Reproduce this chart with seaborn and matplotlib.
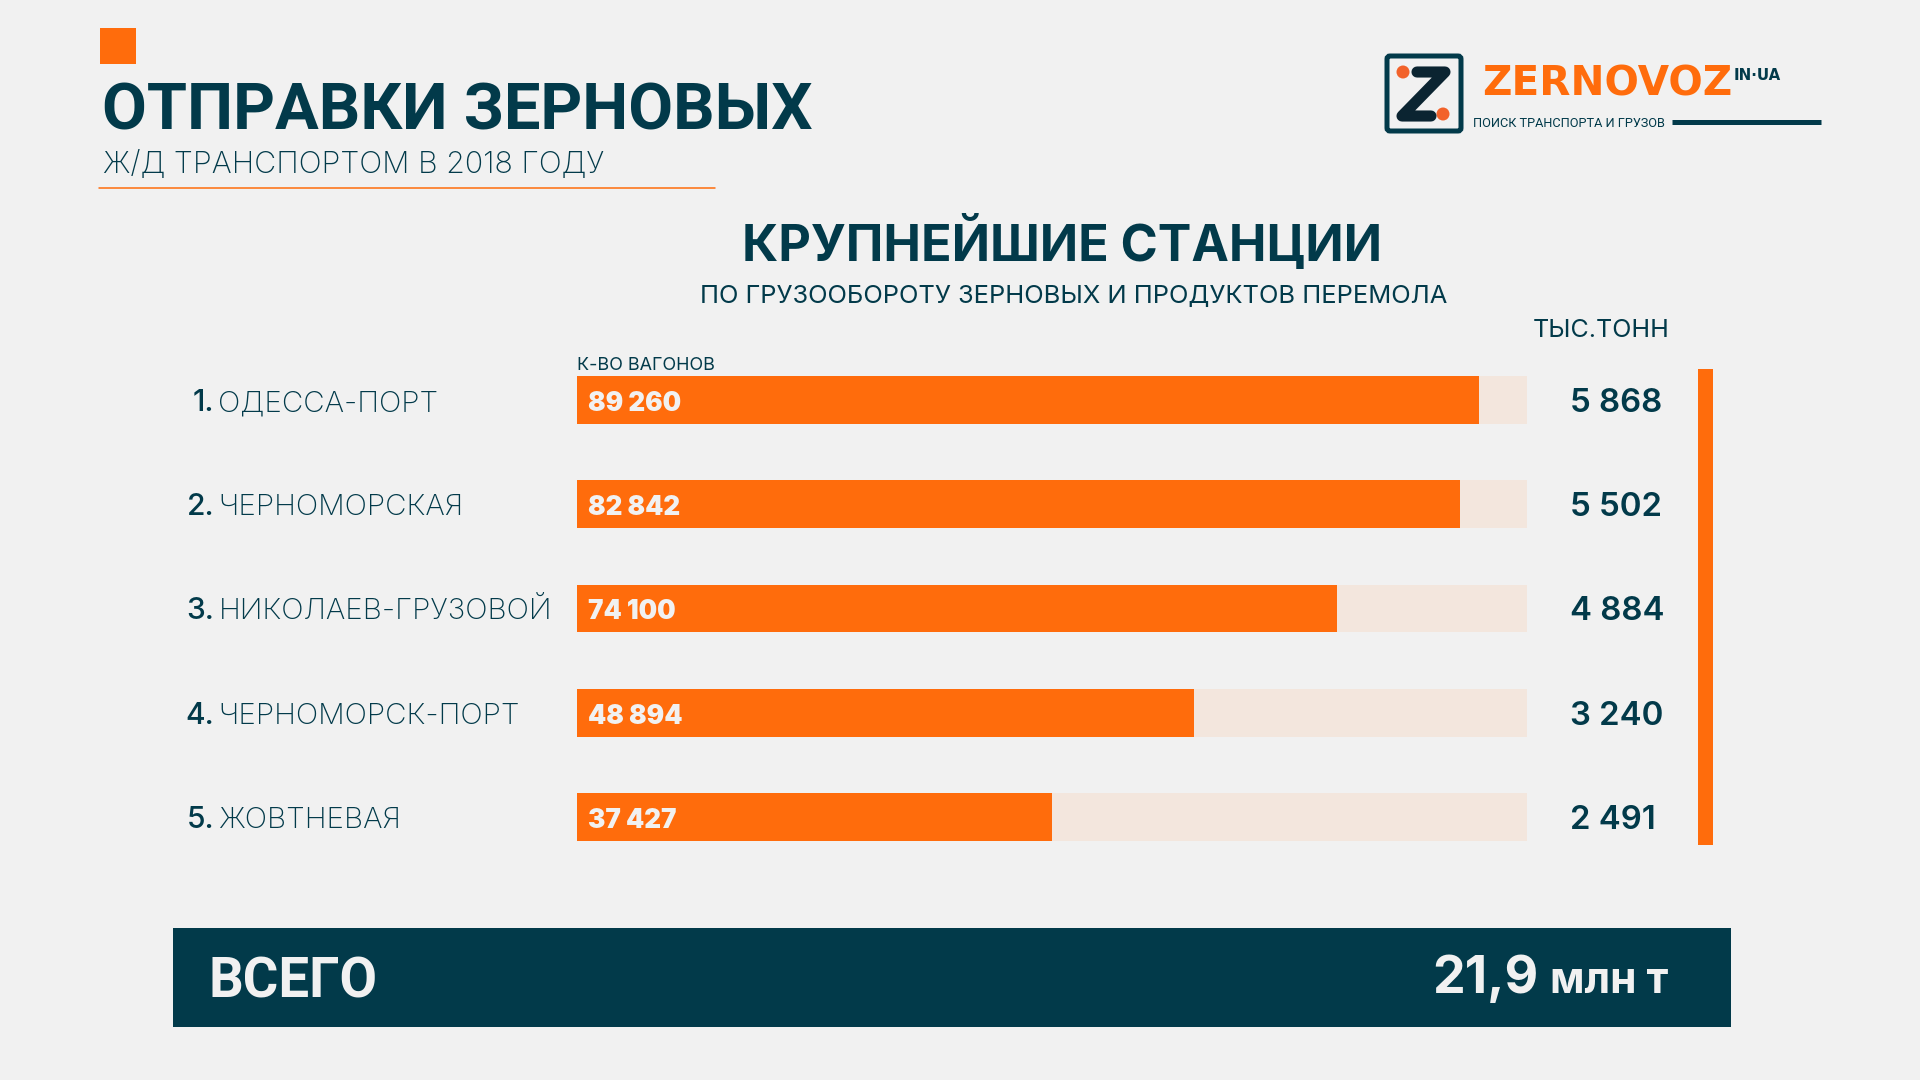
import matplotlib
matplotlib.use('Agg')
import matplotlib.pyplot as plt
import matplotlib.patches as patches
import seaborn as sns

# values
stations = ['ОДЕССА-ПОРТ', 'ЧЕРНОМОРСКАЯ', 'НИКОЛАЕВ-ГРУЗОВОЙ', 'ЧЕРНОМОРСК-ПОРТ', 'ЖОВТНЕВАЯ']
wagons = [89260, 82842, 74100, 48894, 37427]
kilotons = [5868, 5502, 4884, 3240, 2491]
# bar length in the picture, % of the pale track
bar_share = [95, 93, 80, 65, 50]
track = [100, 100, 100, 100, 100]

BG = '#f1f1f1'
ORANGE = '#ff6c0c'
PALE = '#f3e6dd'
TEAL = '#023a4a'
INK = '#0b2431'

sns.set_theme(style='white')
plt.rcParams['font.family'] = ['Inter', 'DejaVu Sans']


def spaced(v):
    return f'{v:,}'.replace(',', ' ')


def px(size):
    # font size given in pixels at dpi 100
    return size * 0.72


fig = plt.figure(figsize=(19.2, 10.8), dpi=100, facecolor=BG)

# layer in pixel coordinates for the frame of the poster
bg = fig.add_axes([0, 0, 1, 1])
bg.set_xlim(0, 1920)
bg.set_ylim(1080, 0)
bg.axis('off')

# header
bg.add_patch(patches.Rectangle((100, 28), 36, 36, color=ORANGE, lw=0))
bg.text(102, 129, 'ОТПРАВКИ ЗЕРНОВЫХ', fontsize=px(65), fontweight='bold', color=TEAL,
        family='Roboto', va='baseline')
bg.text(103, 173, 'Ж/Д ТРАНСПОРТОМ В 2018 ГОДУ', fontsize=px(30.4), fontweight='light', color=TEAL, va='baseline')
bg.plot([99, 715], [188, 188], color=ORANGE, lw=1.1)

# logo
bg.add_patch(patches.FancyBboxPatch((1387, 56), 74, 75, boxstyle='round,pad=0,rounding_size=3',
                                    fill=False, ec=TEAL, lw=3.6))
bg.plot([1417, 1445, 1402, 1431], [72, 72, 116, 116], color=INK, lw=8,
        solid_capstyle='round', solid_joinstyle='round')
bg.add_patch(patches.Circle((1403, 72), 6.5, color='#f2622a', lw=0))
bg.add_patch(patches.Circle((1443, 114), 6.5, color='#f2622a', lw=0))
bg.text(1482, 95, 'ZERNOVOZ', fontsize=px(40.5), fontweight='bold', color=ORANGE,
        family='DejaVu Sans', va='baseline')
bg.text(1734, 80, 'IN·UA', fontsize=px(15), fontweight='bold', color=TEAL,
        family='DejaVu Sans', va='baseline')
bg.text(1473, 127, 'ПОИСК ТРАНСПОРТА И ГРУЗОВ', fontsize=px(12.8), color=TEAL, family='Roboto', va='baseline')
bg.plot([1672, 1821], [122, 122], color=TEAL, lw=3.6, solid_capstyle='butt')

# block titles
bg.text(1062, 261, 'КРУПНЕЙШИЕ СТАНЦИИ', fontsize=px(50.3), fontweight='bold', color=TEAL,
        ha='center', va='baseline')
bg.text(1074, 303, 'ПО ГРУЗООБОРОТУ ЗЕРНОВЫХ И ПРОДУКТОВ ПЕРЕМОЛА', fontsize=px(25.5), color=TEAL,
        ha='center', va='baseline')
bg.text(1533, 337, 'ТЫС.ТОНН', fontsize=px(25), color=TEAL, va='baseline')
bg.text(577, 370, 'К-ВО ВАГОНОВ', fontsize=px(18), color=TEAL, va='baseline')

# orange rule on the right
bg.add_patch(patches.Rectangle((1698, 369), 15, 476, color=ORANGE, lw=0))

# total band
bg.add_patch(patches.Rectangle((173, 928), 1558, 99, color=TEAL, lw=0))
bg.text(208, 997, 'ВСЕГО', fontsize=px(54.5), fontweight='bold', color=BG, family='Roboto', va='baseline')
bg.text(1432, 993, '21,9', fontsize=px(52), fontweight='bold', color=BG, va='baseline')
bg.text(1550, 993, 'млн т', fontsize=px(42.5), fontweight='bold', color=BG, va='baseline')

# bars
ax = fig.add_axes([576.5 / 1920, 1 - 869 / 1080, 950 / 1920, 521 / 1080])
ax.patch.set_alpha(0)
sns.barplot(x=track, y=stations, color=PALE, width=0.46, saturation=1, linewidth=0, ax=ax)
sns.barplot(x=bar_share, y=stations, color=ORANGE, width=0.46, saturation=1, linewidth=0, ax=ax)
ax.set_xlim(0, 100)
ax.set_ylim(4.5, -0.5)
ax.set(xlabel='', ylabel='', xticks=[], yticks=[])
sns.despine(ax=ax, left=True, bottom=True)

for i in range(len(stations)):
    ax.annotate(f'{i + 1}.', (0, i), xytext=(-362, -11), textcoords='offset pixels',
                ha='right', va='baseline', fontsize=px(30), fontweight='medium', color=TEAL, annotation_clip=False)
    ax.annotate(stations[i], (0, i), xytext=(-358, -11), textcoords='offset pixels',
                ha='left', va='baseline', fontsize=px(29.6), fontweight='light', color=TEAL, annotation_clip=False)
    ax.annotate(spaced(wagons[i]), (0, i), xytext=(12, -11), textcoords='offset pixels',
                ha='left', va='baseline', fontsize=px(26), fontweight='black', color=BG)
    ax.annotate(spaced(kilotons[i]), (100, i), xytext=(44, -12), textcoords='offset pixels',
                ha='left', va='baseline', fontsize=px(33), fontweight='semibold', color=TEAL, annotation_clip=False)

fig.savefig('out.png', dpi=100, facecolor=BG)
